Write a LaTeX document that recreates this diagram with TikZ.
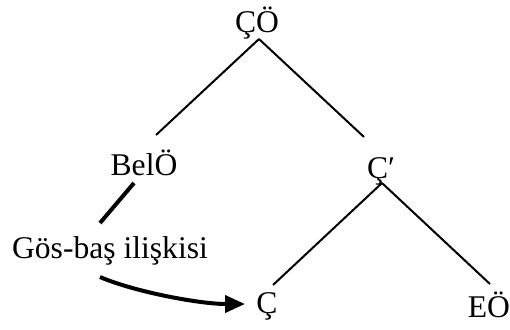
\documentclass[tikz,border=0pt]{standalone}
\usepackage{fontspec}
\setmainfont{Liberation Serif}
\usetikzlibrary{arrows.meta,calc}
\tikzset{
  word/.style={inner sep=0pt, anchor=base, font=\fontsize{15.8}{19}\selectfont},
  branch/.style={line width=1pt, draw=black},
  relline/.style={line width=2pt, draw=black},
  relarrow/.style={-{Triangle[length=10pt,width=8.5pt]}, line width=2pt, draw=black}
}
\begin{document}
\begin{tikzpicture}[x=0.5pt,y=-0.5pt]
  \useasboundingbox (0,0) rectangle (510,329);

  % --- tree ---
  \node[word] (co) at (257,32) {ÇÖ};
  \node[word] (belo) at (144,175) {BelÖ};
  \node[word] (cp) at (381,178) {Ç′};
  \node[word] (c) at (267,313) {Ç};
  \node[word] (eo) at (489,317) {EÖ};
  \draw[branch] ($(co.base)+(2,7)$) -- ($(belo.base)+(12,-40)$);
  \draw[branch] ($(co.base)+(2,7)$) -- ($(cp.base)+(-17,-41)$);
  \draw[branch] ($(cp.base)+(1,5)$) -- ($(c.base)+(6,-28)$);
  \draw[branch] ($(cp.base)+(1,5)$) -- ($(eo.base)+(1,-33)$);

  % --- relation ---
  \node[word] (gb) at (110,258) {Gös-baş ilişkisi};
  \draw[relline] ($(belo.base)+(-10,8)$) -- ($(gb.base)+(-10,-35)$);
  \draw[relarrow] ($(gb.base)+(-10,19)$) .. controls ($(gb.base)+(25,34)$) and ($(c.base)+(-67,-9)$) .. ($(c.base)+(-22,-9)$);
\end{tikzpicture}
\end{document}
